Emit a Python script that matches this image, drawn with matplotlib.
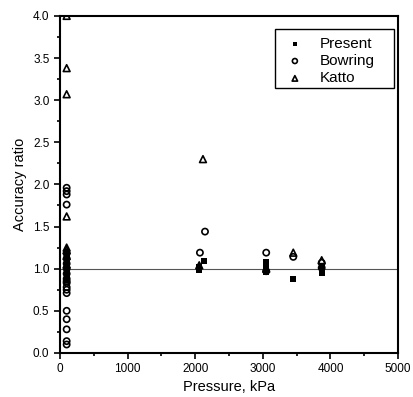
import matplotlib
matplotlib.use('Agg')
import matplotlib.pyplot as plt
from matplotlib.patches import Rectangle
from matplotlib.ticker import MultipleLocator

plt.rcParams['font.family'] = ['Liberation Sans', 'DejaVu Sans']

# Present correlation
present_p = [100, 100, 100, 100, 100, 100, 100, 100, 100,
             2130, 2055, 2060, 3050, 3050, 3050, 3450, 3870, 3870, 3870]
present_r = [0.86, 0.90, 0.95, 1.00, 1.04, 1.08, 1.12, 1.16, 1.20,
             1.09, 0.99, 1.02, 1.08, 1.02, 0.96, 0.88, 1.03, 0.98, 0.95]

# Bowring correlation
bowring_p = [100, 100, 100, 100, 100, 100, 100, 100, 100, 100, 100, 100,
             100, 100, 100, 100, 100, 100, 100, 100,
             2145, 2070, 3050, 3050, 3450, 3870, 3870]
bowring_r = [1.96, 1.92, 1.88, 1.76, 1.18, 1.12, 1.06, 1.00, 0.94, 0.88,
             0.83, 0.78, 0.75, 0.71, 0.50, 0.40, 0.28, 0.14, 0.10, 0.85,
             1.44, 1.19, 1.19, 0.97, 1.14, 1.07, 1.01]

# Katto correlation
katto_p = [100, 100, 100, 100, 100, 100, 100, 100,
           2115, 2060, 3050, 3450, 3870]
katto_r = [4.0, 3.38, 3.07, 1.62, 1.25, 1.22, 1.15, 1.05,
           2.30, 1.04, 1.0, 1.19, 1.10]

fig = plt.figure(figsize=(4.13, 3.97), dpi=100)
ax = fig.add_axes([0.145, 0.111, 0.819, 0.849])

ax.axhline(1.0, color='#555555', lw=0.8, zorder=1)

ax.scatter(present_p, present_r, marker='s', s=16, c='black',
           linewidths=0, label='Present', zorder=3)
ax.scatter(bowring_p, bowring_r, marker='o', s=20, facecolors='none',
           edgecolors='black', linewidths=1.2, label='Bowring', zorder=3)
ax.scatter(katto_p, katto_r, marker='^', s=24, facecolors='none',
           edgecolors='black', linewidths=1.2, label='Katto', zorder=3)

ax.set_xlim(0, 5000)
ax.set_ylim(0, 4.0)
ax.xaxis.set_major_locator(MultipleLocator(1000))
ax.xaxis.set_minor_locator(MultipleLocator(500))
ax.yaxis.set_major_locator(MultipleLocator(0.5))
ax.yaxis.set_minor_locator(MultipleLocator(0.25))
ax.tick_params(which='both', direction='out', labelsize=8.5, width=1.2)
ax.tick_params(which='major', length=4)
ax.tick_params(which='minor', length=2.5)
for s in ax.spines.values():
    s.set_linewidth(1.5)

ax.set_xlabel('Pressure, kPa', fontsize=10.5, labelpad=3)
ax.set_ylabel('Accuracy ratio', fontsize=10.5, labelpad=4)

# legend box drawn by hand (wider left/right padding than legend frame)
bx0, bx1, by0, by1 = 0.636, 0.988, 0.786, 0.961
ax.add_patch(Rectangle((bx0, by0), bx1 - bx0, by1 - by0,
                       transform=ax.transAxes, facecolor='white',
                       edgecolor='black', lw=1.0, zorder=4))
leg = ax.legend(loc='upper left', bbox_to_anchor=(bx0, by1),
                borderaxespad=0, fontsize=11, frameon=False,
                handletextpad=0.83, borderpad=0.5, handlelength=1.6,
                labelspacing=0.22, markerscale=0.8)
leg.set_zorder(5)

fig.savefig('out.png', dpi=100)
